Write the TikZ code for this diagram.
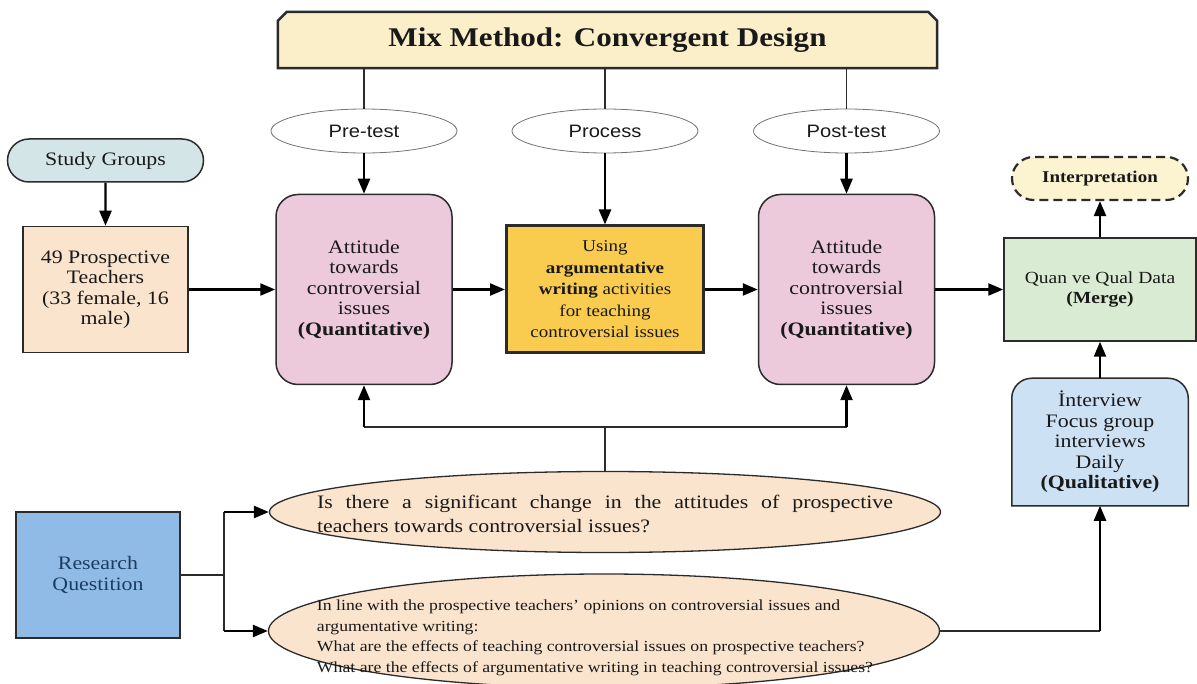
\documentclass[tikz,border=0pt]{standalone}
\usepackage{fontspec}
\setmainfont[FakeStretch=1.15]{Liberation Serif}
\setsansfont[FakeStretch=1.12]{Liberation Sans}
\usetikzlibrary{arrows.meta,shapes.geometric,shapes.misc,backgrounds}
\definecolor{bannerfill}{HTML}{FBEFC9}
\definecolor{studyfill}{HTML}{D4E5E8}
\definecolor{peachfill}{HTML}{FBE4CD}
\definecolor{pinkfill}{HTML}{ECCADC}
\definecolor{goldfill}{HTML}{F9CB4F}
\definecolor{mergefill}{HTML}{D9ECD3}
\definecolor{interpfill}{HTML}{FCF3D0}
\definecolor{qualfill}{HTML}{CDE1F5}
\definecolor{rqfill}{HTML}{8FBBE6}
\definecolor{rqtext}{HTML}{1C3D63}
\definecolor{edge}{HTML}{2B2B2B}
\begin{document}
\begin{tikzpicture}[x=1pt,y=-1pt,
    every node/.style={text=black!90, inner sep=0pt},
    box/.style={draw=edge, line width=1.5pt, align=center, font=\fontsize{19}{20.5}\selectfont},
    stage/.style={ellipse, draw=black!55, line width=0.8pt, fill=white, minimum width=186pt, minimum height=44pt, font=\sffamily\fontsize{18}{20}\selectfont},
    pill/.style={rounded rectangle, draw=edge, line width=1.5pt, minimum height=43pt},
    question/.style={ellipse, draw=edge, line width=1.3pt, fill=peachfill, minimum width=671pt},
    link/.style={draw=edge, line width=1.1pt},
    arr/.style={draw=black, line width=2.4pt, -{Triangle[length=15pt,width=12pt]}}]
    \useasboundingbox (0,0) rectangle (1197,684);
    \node[minimum width=659pt, minimum height=56pt, font=\bfseries\fontsize{27}{30}\selectfont] (mix) at (607.5,40) {Mix Method: Convergent Design};
    \begin{scope}[on background layer]
    \draw[draw=edge, line width=2.5pt, fill=bannerfill] (mix.south west) -- ([yshift=-9pt]mix.north west) -- ([xshift=9pt]mix.north west) -- ([xshift=-9pt]mix.north east) -- ([yshift=-9pt]mix.north east) -- (mix.south east) -- cycle;
    \end{scope}
    \node[stage] (pre) at (364,131) {Pre-test};
    \node[stage] (proc) at (605,131) {Process};
    \node[stage] (post) at (846.5,131) {Post-test};
    \node[pill, fill=studyfill, minimum width=196pt, font=\fontsize{19}{20}\selectfont] (study) at (105.5,160.5) {Study Groups};
    \node[box, fill=peachfill, minimum width=165pt, minimum height=126pt] (teach) at (105.5,289.5) {49 Prospective\\Teachers\\(33 female, 16\\male)};
    \node[box, fill=pinkfill, rounded corners=22pt, minimum width=176pt, minimum height=190pt] (att1) at (364,289.5) {Attitude\\towards\\controversial\\issues\\\textbf{(Quantitative)}};
    \node[box, fill=goldfill, line width=3pt, minimum width=197pt, minimum height=127pt, font=\fontsize{16.5}{21.5}\selectfont] (act) at (605,289.5) {Using\\\textbf{argumentative}\\\textbf{writing} activities\\for teaching\\controversial issues};
    \node[box, fill=pinkfill, rounded corners=22pt, minimum width=176pt, minimum height=190pt] (att2) at (846.5,289.5) {Attitude\\towards\\controversial\\issues\\\textbf{(Quantitative)}};
    \node[box, fill=mergefill, minimum width=192pt, minimum height=103pt, font=\fontsize{17}{20}\selectfont] (merge) at (1100,289.5) {Quan ve Qual Data\\\textbf{(Merge)}};
    \node[pill, dash pattern=on 9pt off 5pt, line width=2.2pt, fill=interpfill, minimum width=176pt, font=\bfseries\fontsize{16.5}{18}\selectfont] (interp) at (1100,178.5) {Interpretation};
    \node[box, draw=none, minimum width=175pt, minimum height=126pt] (qual) at (1100,442) {İnterview\\Focus group\\interviews\\Daily\\\textbf{(Qualitative)}};
    \begin{scope}[on background layer]
    \draw[draw=edge, line width=1.5pt, fill=qualfill] (qual.south west) -- ([yshift=-20pt]qual.north west) arc[start angle=180, end angle=90, radius=20pt] -- ([xshift=-20pt]qual.north east) arc[start angle=90, end angle=0, radius=20pt] -- (qual.south east) -- cycle;
    \end{scope}
    \node[box, fill=rqfill, minimum width=164pt, minimum height=126pt, text=rqtext] (rq) at (98,575) {Research\\Questition};
    \node[question, minimum height=81pt] (q1) at (605,512) {};
    \node[font=\fontsize{19}{24}\selectfont, align=left] (q1text) at (605,514) {\makebox[576pt][s]{Is there a significant change in the attitudes of prospective}\\teachers towards controversial issues?};
    \node[question, minimum height=114pt] (q2) at (604,631) {};
    \node[font=\fontsize{15.4}{20.5}\selectfont, align=left] (q2text) at (595,638) {In line with the prospective teachers’ opinions on controversial issues and\\argumentative writing:\\What are the effects of teaching controversial issues on prospective teachers?\\What are the effects of argumentative writing in teaching controversial issues?};
    \foreach \s in {pre,proc,post}
    \draw[link] (\s.north) -- (\s.north |- mix.south);
    \draw[arr] (pre) -- (att1);
    \draw[arr] (proc) -- (act);
    \draw[arr] (post) -- (att2);
    \draw[arr] (study) -- (teach);
    \draw[arr] (teach) -- (att1);
    \draw[arr] (att1) -- (act);
    \draw[arr] (act) -- (att2);
    \draw[arr] (att2) -- (merge);
    \draw[arr] (merge) -- (interp);
    \draw[arr] (qual) -- (merge);
    \coordinate (split) at (605,427);
    \draw[link] (q1) -- (split);
    \draw[link] (att1 |- split) -- (att2 |- split);
    \draw[arr] (att1 |- split) -- (att1);
    \draw[arr] (att2 |- split) -- (att2);
    \coordinate (branch) at (224,575);
    \draw[link] (rq) -- (branch);
    \draw[link] (branch |- q1) -- (branch |- q2);
    \draw[arr] (branch |- q1) -- (q1);
    \draw[arr] (branch |- q2) -- (q2);
    \draw[link] (q2) -- (q2 -| qual);
    \draw[arr] (q2 -| qual) -- (qual);
\end{tikzpicture}
\end{document}
